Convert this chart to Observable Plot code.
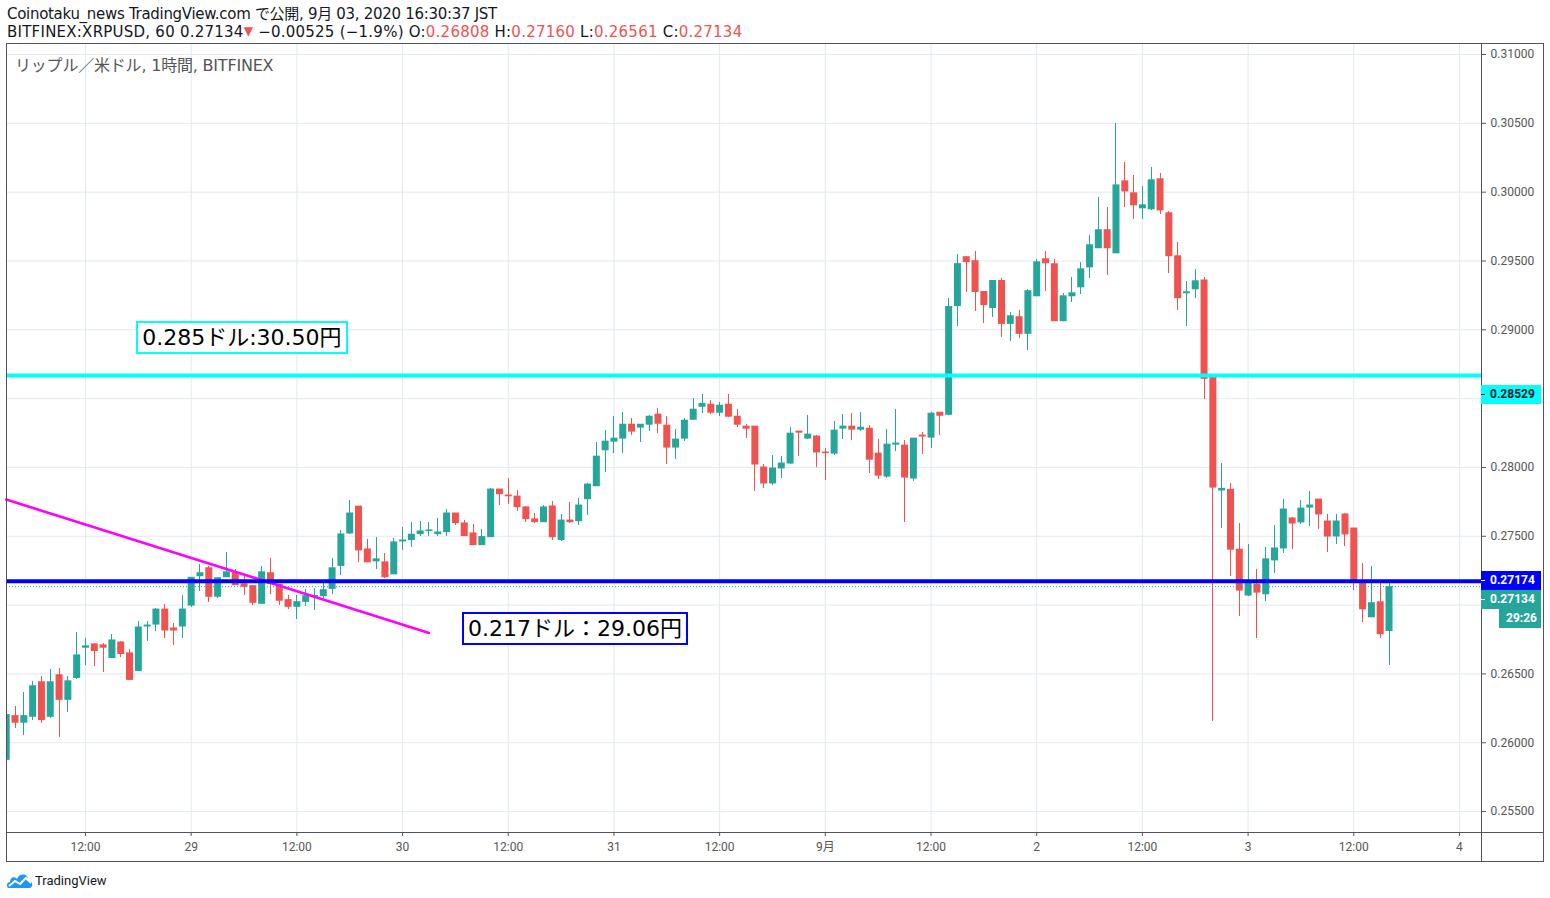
<!DOCTYPE html>
<html>
<head>
<meta charset="utf-8">
<script src="https://cdn.jsdelivr.net/npm/d3@7"></script>
<script src="https://cdn.jsdelivr.net/npm/@observablehq/plot@0.6"></script>
<style>
  html, body { margin: 0; padding: 0; background: #fff; width: 1550px; height: 898px; overflow: hidden; }
  body { position: relative; font-family: "DejaVu Sans", "Noto Sans CJK JP", sans-serif; color: #131722; }
  #hdr { position: absolute; left: 7px; top: 6px; font-size: 15px; line-height: 17px; white-space: nowrap; }
  #hdr .l1 { letter-spacing: -0.3px; }
  #hdr .l2 { letter-spacing: 0.24px; }
  #hdr .r { color: #ef5350; }
  #hdr .tri { color: #ef5350; font-size: 12px; vertical-align: 2px; }
  #wrap { position: absolute; left: 0; top: 43px; width: 1550px; height: 819px; }
  .ov { position: absolute; pointer-events: none; }
  .note { position: absolute; background: #fff; font-family: "DejaVu Sans", "Noto Sans CJK JP", sans-serif; font-size: 22px; line-height: 29px; padding: 0 4px; white-space: nowrap; color: #000; }
  .tag { position: absolute; height: 19px; line-height: 19px; font-size: 12px; font-weight: bold; font-family: Roboto, sans-serif; box-sizing: border-box; }
  .tag i { position: absolute; left: 0; top: 9px; width: 4px; height: 1px; }
  #sym { position: absolute; left: 15px; font-size: 16px; color: #555; font-family: "DejaVu Sans", "Noto Sans CJK JP", sans-serif; white-space: nowrap; letter-spacing: -0.2px; }
  #foot { position: absolute; left: 6px; top: 870px; height: 20px; display: flex; align-items: center; font-size: 13px; color: #131722; font-family: Roboto, sans-serif; }
</style>
</head>
<body>
<div id="hdr">
  <div class="l1">Coinotaku_news TradingView.com で公開, 9月 03, 2020 16:30:37 JST</div>
  <div class="l2">BITFINEX:XRPUSD, 60 0.27134<span class="tri">▼</span> −0.00525 (−1.9%) O:<span class="r">0.26808</span> H:<span class="r">0.27160</span> L:<span class="r">0.26561</span> C:<span class="r">0.27134</span></div>
</div>
<div id="wrap"></div>
<div id="foot">
  <svg width="28" height="18" viewBox="0 0 28 18">
    <path d="M3 17 C0 17 0 11 4 11 C4 6 9 5 11 8 C13 2 22 2 22 9 C27 9 28 17 23 17 Z" fill="#2196f3"/>
    <polyline points="3,15 9,10 14,13 20,7 25,12" fill="none" stroke="#fff" stroke-width="2"/>
  </svg>
  <span style="margin-left:1px">TradingView</span>
</div>
<script>
// ---------- data ----------
const startTime = "2020-08-28T03:00Z";   // first hourly candle (JST clock)
const open = [0.25872,0.26197,0.26142,0.26185,0.26443,0.26185,0.26494,0.26308,0.26467,0.26687,
0.26718,0.26711,0.26612,0.26732,0.26653,0.26518,0.26841,0.26855,0.26971,0.26834,
0.26841,0.26993,0.27206,0.27271,0.27057,0.27199,0.27235,0.27155,0.27141,0.27006,
0.27235,0.27151,0.27040,0.26984,0.27020,0.27060,0.27061,0.27114,0.27281,0.27517,
0.27719,0.27408,0.27314,0.27314,0.27220,0.27459,0.27469,0.27512,0.27534,0.27512,
0.27527,0.27669,0.27597,0.27524,0.27432,0.27490,0.27843,0.27800,0.27792,0.27713,
0.27626,0.27599,0.27720,0.27469,0.27618,0.27606,0.27766,0.27860,0.28121,0.28184,
0.28206,0.28314,0.28286,0.28307,0.28387,0.28307,0.28141,0.28206,0.28343,0.28437,
0.28459,0.28394,0.28459,0.28372,0.28300,0.28300,0.28003,0.27880,0.27989,0.28025,
0.28264,0.28206,0.28228,0.28112,0.28097,0.28278,0.28300,0.28271,0.28285,0.28104,
0.27930,0.28162,0.28162,0.27916,0.28235,0.28213,0.28401,0.28379,0.29169,0.29531,
0.29502,0.29278,0.29155,0.29358,0.29039,0.29095,0.28967,0.29240,0.29516,0.29480,
0.29059,0.29240,0.29305,0.29450,0.29589,0.29727,0.29552,0.30082,0.29995,0.29879,
0.29872,0.30097,0.29850,0.29538,0.29262,0.29291,0.29362,0.28660,0.27829,0.27841,
0.27406,0.27066,0.27153,0.27075,0.27321,0.27408,0.27633,0.27597,0.27705,0.27770,
0.27611,0.27495,0.27662,0.27560,0.27176,0.26908,0.27024,0.26808];
const high = [0.26205,0.26263,0.26364,0.26443,0.26479,0.26530,0.26537,0.26479,0.26798,0.26761,
0.26718,0.26718,0.26790,0.26732,0.26675,0.26884,0.26884,0.26978,0.27007,0.26863,
0.27072,0.27202,0.27293,0.27278,0.27200,0.27380,0.27257,0.27206,0.27141,0.27278,
0.27336,0.27151,0.27069,0.27069,0.27114,0.27119,0.27155,0.27336,0.27539,0.27763,
0.27719,0.27473,0.27488,0.27372,0.27481,0.27567,0.27597,0.27604,0.27597,0.27626,
0.27691,0.27669,0.27618,0.27589,0.27546,0.27850,0.27843,0.27923,0.27829,0.27713,
0.27669,0.27720,0.27756,0.27655,0.27742,0.27771,0.27886,0.28184,0.28270,0.28372,
0.28401,0.28358,0.28314,0.28379,0.28430,0.28372,0.28278,0.28358,0.28500,0.28531,
0.28488,0.28473,0.28531,0.28423,0.28314,0.28300,0.28025,0.28090,0.28076,0.28293,
0.28264,0.28380,0.28235,0.28141,0.28336,0.28387,0.28394,0.28401,0.28307,0.28206,
0.28278,0.28423,0.28198,0.28213,0.28256,0.28401,0.28401,0.29227,0.29546,0.29531,
0.29568,0.29278,0.29358,0.29372,0.29124,0.29138,0.29291,0.29509,0.29567,0.29509,
0.29262,0.29378,0.29487,0.29683,0.29959,0.29886,0.30496,0.30213,0.30119,0.30039,
0.30177,0.30133,0.29857,0.29632,0.29349,0.29436,0.29377,0.28660,0.28029,0.27884,
0.27595,0.27442,0.27261,0.27415,0.27575,0.27770,0.27633,0.27763,0.27828,0.27770,
0.27655,0.27655,0.27662,0.27560,0.27300,0.27278,0.27176,0.27160];
const low = [0.25872,0.26106,0.26055,0.26161,0.26142,0.26178,0.26041,0.26222,0.26460,0.26561,
0.26554,0.26511,0.26612,0.26619,0.26453,0.26518,0.26732,0.26805,0.26754,0.26704,
0.26761,0.26986,0.27100,0.27020,0.27050,0.27199,0.27141,0.27071,0.27000,0.27006,
0.27078,0.27000,0.26970,0.26897,0.26991,0.26963,0.27050,0.27078,0.27216,0.27510,
0.27307,0.27307,0.27257,0.27192,0.27220,0.27394,0.27418,0.27498,0.27498,0.27498,
0.27498,0.27577,0.27498,0.27432,0.27432,0.27490,0.27722,0.27730,0.27679,0.27599,
0.27592,0.27599,0.27469,0.27462,0.27592,0.27577,0.27650,0.27860,0.27961,0.28099,
0.28105,0.28235,0.28184,0.28264,0.28249,0.28025,0.28061,0.28191,0.28343,0.28394,
0.28387,0.28372,0.28365,0.28293,0.28213,0.27823,0.27844,0.27866,0.27917,0.28025,
0.28083,0.28206,0.28003,0.27902,0.28090,0.28206,0.28198,0.28264,0.27959,0.27916,
0.27923,0.28119,0.27597,0.27901,0.28097,0.28140,0.28235,0.28379,0.29024,0.29271,
0.29133,0.29046,0.29089,0.28945,0.28916,0.28938,0.28848,0.29240,0.29276,0.29059,
0.29059,0.29197,0.29255,0.29371,0.29589,0.29393,0.29552,0.29886,0.29799,0.29799,
0.29864,0.29835,0.29407,0.29138,0.29022,0.29226,0.28495,0.26153,0.27558,0.27211,
0.26914,0.27066,0.26754,0.27024,0.27227,0.27372,0.27401,0.27589,0.27568,0.27546,
0.27379,0.27437,0.27423,0.27104,0.26872,0.26908,0.26756,0.26561];
const close = [0.26205,0.26142,0.26197,0.26414,0.26161,0.26443,0.26308,0.26450,0.26638,0.26704,
0.26663,0.26687,0.26747,0.26641,0.26453,0.26841,0.26855,0.26971,0.26812,0.26812,
0.26971,0.27202,0.27235,0.27057,0.27199,0.27242,0.27141,0.27129,0.27013,0.27242,
0.27150,0.27028,0.26984,0.27025,0.27069,0.27070,0.27112,0.27271,0.27517,0.27669,
0.27394,0.27307,0.27336,0.27199,0.27459,0.27473,0.27515,0.27539,0.27546,0.27531,
0.27669,0.27592,0.27498,0.27432,0.27498,0.27843,0.27802,0.27787,0.27708,0.27621,
0.27599,0.27713,0.27490,0.27618,0.27599,0.27727,0.27879,0.28082,0.28191,0.28213,
0.28314,0.28257,0.28314,0.28372,0.28314,0.28141,0.28206,0.28343,0.28423,0.28466,
0.28394,0.28452,0.28365,0.28307,0.28278,0.28018,0.27880,0.27996,0.28032,0.28249,
0.28249,0.28242,0.28105,0.28100,0.28271,0.28300,0.28271,0.28292,0.28053,0.27937,
0.28169,0.28177,0.27923,0.28213,0.28221,0.28394,0.28372,0.29169,0.29481,0.29488,
0.29271,0.29176,0.29358,0.29039,0.29102,0.28967,0.29284,0.29494,0.29480,0.29059,
0.29247,0.29269,0.29443,0.29618,0.29727,0.29589,0.30053,0.30002,0.29901,0.29908,
0.30090,0.29864,0.29531,0.29226,0.29276,0.29356,0.28640,0.27850,0.27848,0.27399,
0.27102,0.27167,0.27087,0.27336,0.27415,0.27698,0.27589,0.27705,0.27727,0.27655,
0.27495,0.27611,0.27510,0.27176,0.26966,0.27017,0.26785,0.27134];

const xTickTimes = ["2020-08-28T12:00Z","2020-08-29T00:00Z","2020-08-29T12:00Z","2020-08-30T00:00Z",
  "2020-08-30T12:00Z","2020-08-31T00:00Z","2020-08-31T12:00Z","2020-09-01T00:00Z","2020-09-01T12:00Z",
  "2020-09-02T00:00Z","2020-09-02T12:00Z","2020-09-03T00:00Z","2020-09-03T12:00Z","2020-09-04T00:00Z"];
const xTickLabels = ["12:00","29","12:00","30","12:00","31","12:00","9月","12:00","2","12:00","3","12:00","4"];
const yTicks = [0.255,0.26,0.265,0.27,0.275,0.28,0.285,0.29,0.295,0.30,0.305,0.31];
const xRange = ["2020-08-28T03:02Z", "2020-09-04T02:30Z"];
const yRange = [0.25348, 0.3108];

// drawn levels and trend line
const cyanLevel = 0.28668;
const cyanLabel = 0.28529;
const blueLevel = 0.27174;
const lastPrice = 0.27134;
const trendTimes = ["2020-08-28T03:00Z", "2020-08-30T03:00Z"];
const trendPrices = [0.27767, 0.26798];
const noteTexts = ["0.285ドル:30.50円", "0.217ドル：29.06円"];
const noteTimes = ["2020-08-28T18:30Z", "2020-08-30T07:30Z"];
const notePrices = [0.2894, 0.2683];
const noteColors = ["#00ffff", "#0000ff"];
const symbolLabel = "リップル／米ドル, 1時間, BITFINEX";
const countdown = "29:26";

// ---------- build ----------
const upColor = "#26a69a", downColor = "#ef5350", gridColor = "#e1e9f0";
const t0 = new Date(startTime).getTime();
const minBody = 0.00008;
const candles = open.map((o, i) => {
  const c = close[i];
  let lo = Math.min(o, c), hi = Math.max(o, c);
  if (hi - lo < minBody) { const m = (hi + lo) / 2; lo = m - minBody / 2; hi = m + minBody / 2; }
  return {date: new Date(t0 + i * 3600e3), open: o, high: high[i], low: low[i], close: c, bodyLo: lo, bodyHi: hi, up: c >= o};
});
const up = candles.filter(d => d.up), down = candles.filter(d => !d.up);
const xTicks = xTickTimes.map(s => new Date(s));
const labelBy = new Map(xTicks.map((d, i) => [+d, xTickLabels[i]]));
const trend = trendTimes.map((s, i) => ({date: new Date(s), price: trendPrices[i]}));

// price tags on the right axis (they hide the axis labels they cover)
const tags = [
  {text: cyanLabel.toFixed(5), price: cyanLabel, bg: "#00ffff", fg: "#131722", shift: 0, left: 1481, width: 60, pad: 9},
  {text: blueLevel.toFixed(5), price: blueLevel, bg: "#0000ff", fg: "#ffffff", shift: 0, left: 1481, width: 60, pad: 9},
  {text: lastPrice.toFixed(5), price: lastPrice, bg: upColor, fg: "#ffffff", shift: 13, left: 1481, width: 60, pad: 9},
  {text: countdown, price: lastPrice, bg: upColor, fg: "#ffffff", shift: 32.5, left: 1499, width: 42, pad: 7, noTick: true}
];
const yPerPx = (yRange[1] - yRange[0]) / 789;
const tagCenters = tags.map(g => g.price - g.shift * yPerPx);
const yLabelTicks = yTicks.filter(v => tagCenters.every(c => Math.abs(c - v) > 11 * yPerPx));

const chart = Plot.plot({
  width: 1550, height: 819,
  marginLeft: 6, marginRight: 69, marginTop: 0, marginBottom: 30,
  style: {fontFamily: 'Roboto, "Noto Sans CJK JP", sans-serif', fontSize: "12px", color: "#555", background: "transparent"},
  x: {type: "utc", domain: xRange.map(s => new Date(s)), label: null},
  y: {domain: yRange, label: null},
  marks: [
    Plot.gridY(yTicks, {stroke: gridColor, strokeOpacity: 1}),
    Plot.gridX(xTicks, {stroke: gridColor, strokeOpacity: 1}),
    Plot.axisY(yLabelTicks, {anchor: "right", tickSize: 4, tickPadding: 5, tickFormat: d3.format(".5f"), label: null}),
    Plot.axisX(xTicks, {anchor: "bottom", tickSize: 4, tickPadding: 6, tickFormat: d => labelBy.get(+d), label: null}),
    Plot.ruleX(up, {x: "date", y1: "low", y2: "high", stroke: upColor, strokeWidth: 1, clip: true, shapeRendering: "crispEdges"}),
    Plot.ruleX(down, {x: "date", y1: "low", y2: "high", stroke: downColor, strokeWidth: 1, clip: true, shapeRendering: "crispEdges"}),
    Plot.ruleX(up, {x: "date", y1: "bodyLo", y2: "bodyHi", stroke: upColor, strokeWidth: 7, clip: true}),
    Plot.ruleX(down, {x: "date", y1: "bodyLo", y2: "bodyHi", stroke: downColor, strokeWidth: 7, clip: true}),
    Plot.ruleY([cyanLevel], {stroke: "#00ffff", strokeWidth: 4}),
    Plot.line(trend, {x: "date", y: "price", stroke: "#ff00ff", strokeWidth: 2.6}),
    Plot.ruleY([blueLevel], {stroke: "#0000ff", strokeWidth: 4}),
    Plot.ruleY([lastPrice], {stroke: upColor, strokeWidth: 1, strokeDasharray: "1,2"})
  ]
});
const wrap = document.getElementById("wrap");
wrap.appendChild(chart);

const xs = chart.scale("x"), ys = chart.scale("y");
function add(el) { wrap.appendChild(el); return el; }

// frame and separators
const frame = add(document.createElement("div"));
frame.className = "ov";
Object.assign(frame.style, {left: "6px", top: "0px", width: "1538px", height: "819px", border: "1px solid #50535e", boxSizing: "border-box"});
const vline = add(document.createElement("div"));
vline.className = "ov";
Object.assign(vline.style, {left: "1481px", top: "0px", width: "1px", height: "819px", background: "#50535e"});
const hline = add(document.createElement("div"));
hline.className = "ov";
Object.assign(hline.style, {left: "6px", top: "789px", width: "1538px", height: "1px", background: "#50535e"});

// symbol label
const sym = add(document.createElement("div"));
sym.id = "sym"; sym.style.top = "9px"; sym.textContent = symbolLabel;

// notes
noteTexts.forEach((t, i) => {
  const d = add(document.createElement("div"));
  d.className = "note";
  d.textContent = t;
  d.style.border = `2px solid ${noteColors[i]}`;
  d.style.left = (xs.apply(new Date(noteTimes[i])) - 6) + "px";
  d.style.top = (ys.apply(notePrices[i]) - 16.5) + "px";
});

// price tags
tags.forEach(g => {
  const d = add(document.createElement("div"));
  d.className = "tag";
  Object.assign(d.style, {left: g.left + "px", width: g.width + "px", top: (ys.apply(g.price) - 9.5 + g.shift) + "px",
    background: g.bg, color: g.fg, paddingLeft: g.pad + "px"});
  if (!g.noTick) { const i = document.createElement("i"); i.style.background = g.fg; d.appendChild(i); }
  d.appendChild(document.createTextNode(g.text));
});
</script>
</body>
</html>
